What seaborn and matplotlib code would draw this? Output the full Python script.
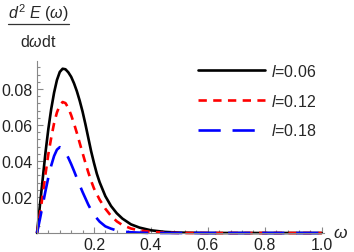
import numpy as np
import pandas as pd
import seaborn as sns
import matplotlib.pyplot as plt
from matplotlib.lines import Line2D

# values
omega_a = [0, 0.01, 0.02, 0.03, 0.04, 0.05, 0.06, 0.07, 0.08, 0.09, 0.10, 0.11, 0.12,
           0.13, 0.14, 0.15, 0.16, 0.17, 0.18, 0.19, 0.20, 0.21, 0.22, 0.24, 0.26,
           0.28, 0.30, 0.33, 0.36, 0.40, 0.45, 0.50, 0.60, 0.80, 1.00]
spec_006 = [0, 0.015, 0.030, 0.045, 0.058, 0.069, 0.078, 0.085, 0.0895, 0.0913, 0.0910,
            0.0893, 0.0868, 0.0832, 0.0788, 0.0735, 0.0675, 0.0605, 0.0530, 0.0455,
            0.0390, 0.0330, 0.0282, 0.0205, 0.0150, 0.0110, 0.0080, 0.0048, 0.0030,
            0.0015, 0.0006, 0.0002, 0, 0, 0]

omega_b = [0, 0.01, 0.02, 0.03, 0.04, 0.05, 0.06, 0.07, 0.08, 0.09, 0.10, 0.11, 0.12,
           0.13, 0.14, 0.15, 0.16, 0.17, 0.18, 0.19, 0.20, 0.22, 0.24, 0.26, 0.28,
           0.30, 0.33, 0.36, 0.40, 0.45, 0.50, 0.60, 0.80, 1.00]
spec_012 = [0, 0.010, 0.021, 0.033, 0.044, 0.053, 0.061, 0.067, 0.071, 0.0728, 0.0722,
            0.0695, 0.0655, 0.0608, 0.0556, 0.0500, 0.0445, 0.0390, 0.0338, 0.0290,
            0.0248, 0.0185, 0.0135, 0.0095, 0.0065, 0.0044, 0.0025, 0.0014, 0.0006,
            0.0002, 0, 0, 0, 0]

omega_c = [0, 0.01, 0.02, 0.03, 0.04, 0.05, 0.06, 0.07, 0.08, 0.09, 0.10, 0.11, 0.12,
           0.13, 0.14, 0.15, 0.16, 0.17, 0.18, 0.19, 0.20, 0.22, 0.24, 0.26, 0.28,
           0.30, 0.33, 0.36, 0.40, 0.50, 0.60, 0.80, 1.00]
spec_018 = [0, 0.0075, 0.0155, 0.0235, 0.031, 0.0375, 0.0428, 0.0463, 0.0477, 0.0470,
            0.0448, 0.0418, 0.0383, 0.0345, 0.0305, 0.0266, 0.0228, 0.0193, 0.0158,
            0.0128, 0.0101, 0.0063, 0.0037, 0.0024, 0.0014, 0.0008, 0.0004, 0.0002,
            0, 0, 0, 0, 0]

labels = ["$l$=0.06", "$l$=0.12", "$l$=0.18"]
colors = ["black", "#ff0000", "#0000ff"]
dashes = ["-", (0, (6.0, 4.6)), (0, (16, 8.5))]

sns.set_style("ticks")
plt.rcParams["font.family"] = ["Liberation Sans", "DejaVu Sans"]
plt.rcParams["mathtext.fontset"] = "custom"
plt.rcParams["mathtext.it"] = "Liberation Sans:italic"
plt.rcParams["mathtext.rm"] = "Liberation Sans"
plt.rcParams["lines.scale_dashes"] = False

fig = plt.figure(figsize=(3.54, 2.53), dpi=100)
ax = fig.add_axes([37 / 354, 1 - 234 / 253, 287 / 354, 172 / 253])

series = [(omega_a, spec_006), (omega_b, spec_012), (omega_c, spec_018)]
for (w, s), lab, col, ls in zip(series, labels, colors, dashes):
    df = pd.DataFrame({"omega": w, "spec": s})
    sns.lineplot(data=df, x="omega", y="spec", ax=ax, color=col, linestyle=ls,
                 linewidth=1.9, label=lab, clip_on=False)

ax.set_xlim(0, 1.008)
ax.set_ylim(0, 0.0956)
ax.set_xticks([0.2, 0.4, 0.6, 0.8, 1.0])
ax.set_xticklabels(["0.2", "0.4", "0.6", "0.8", "1.0"])
ax.set_xticks(np.arange(0.04, 1.0, 0.04), minor=True)
ax.set_yticks([0.02, 0.04, 0.06, 0.08])
ax.set_yticklabels(["0.02", "0.04", "0.06", "0.08"])
ax.set_yticks(np.arange(0.004, 0.095, 0.004), minor=True)
ax.tick_params(which="both", direction="in", colors="#888888", labelcolor="#222222",
               labelsize=11.5, width=0.8)
ax.tick_params(which="major", length=4, pad=3)
ax.tick_params(which="minor", length=2.2)
ax.set_xlabel("")
ax.set_ylabel("")
sns.despine(ax=ax)
for sp in ["left", "bottom"]:
    ax.spines[sp].set_color("#888888")
    ax.spines[sp].set_linewidth(0.8)

leg = ax.legend(loc="upper left", bbox_to_anchor=(190 / 354, 1 - 56 / 253),
                bbox_transform=fig.transFigure, frameon=False, fontsize=11.5,
                handlelength=4.2, handletextpad=0.4, labelspacing=0.85, borderpad=0)

# axis labels, Mathematica style
fig.text(340 / 354, 1 - 234 / 253, r"$\omega$", fontsize=12.5, ha="center", va="center")
fig.text(38 / 354, 1 - 13 / 253, r"$d^2\ E\ (\omega)$", fontsize=11.5, ha="center",
         va="center")
fig.add_artist(Line2D([8 / 354, 69 / 354], [1 - 25 / 253, 1 - 25 / 253], color="#333333",
                      linewidth=0.9, transform=fig.transFigure))
fig.text(38 / 354, 1 - 42 / 253, r"d$\omega$dt", fontsize=11.5, ha="center", va="center")

fig.savefig("out.png", dpi=100)
